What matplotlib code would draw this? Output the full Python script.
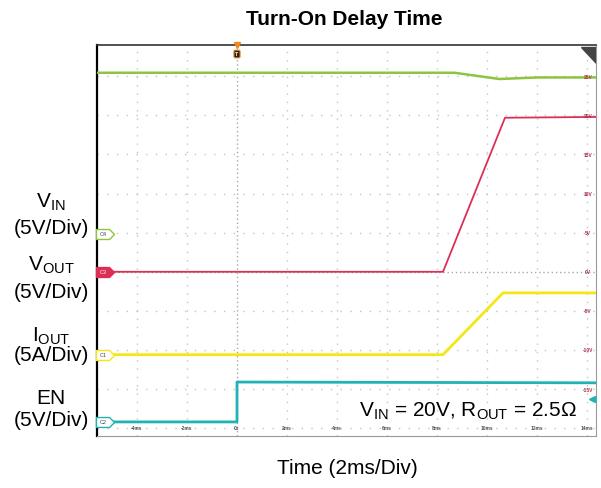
import matplotlib
matplotlib.use('Agg')
import matplotlib.pyplot as plt
from matplotlib.path import Path
from matplotlib.patches import Polygon

plt.rcParams['font.family'] = ['Liberation Sans', 'DejaVu Sans']
plt.rcParams['mathtext.fontset'] = 'custom'
plt.rcParams['mathtext.rm'] = 'Liberation Sans'
plt.rcParams['mathtext.it'] = 'Liberation Sans:italic'

# waveform data (time in ms, values in V / A)
t_vin = [-5.6, 8.7, 9.6, 10.5, 12.0, 14.4]
vin = [20.6, 20.6, 20.2, 19.8, 20.0, 20.0]
t_vout = [-5.6, 8.24, 10.72, 14.4]
vout = [0.0, 0.0, 19.7, 19.8]
t_iout = [-5.6, 8.24, 10.64, 14.4]
iout = [0.0, 0.0, 7.9, 7.9]
t_en = [-5.6, 0.0, 0.0, 14.4]
en = [0.0, 0.0, 5.1, 5.0]

# channel setup: offset in divisions, scale per division
ch_names = ['C4', 'C3', 'C1', 'C2']
ch_offsets = [0.97, 0.0, -2.12, -3.84]
ch_scale = [5, 5, 5, 5]
ch_colors = ['#8cc540', '#dc2f55', '#f5e616', '#1fb3b6']

time_ticks = [-4, -2, 0, 2, 4, 6, 8, 10, 12, 14]
time_labels = ['-4ms', '-2ms', '0s', '2ms', '4ms', '6ms', '8ms', '10ms', '12ms', '14ms']
div_ticks = [5, 4, 3, 2, 1, 0, -1, -2, -3, -4]
volt_labels = ['25V', '20V', '15V', '10V', '5V', '0V', '-5V', '-10V', '-15V', '']
en_trigger = 2.9

W, H = 601, 489
fig = plt.figure(figsize=(W / 100, H / 100), dpi=100)
ax = fig.add_axes([97 / W, (H - 437) / H, 499 / W, 391 / H])
ax.set_xlim(-5.6, 14.36)
ax.set_ylim(-4.2, 5.8)
ax.set_xticks([])
ax.set_yticks([])

# scope grid
for t in time_ticks:
    if t == 0:
        ax.axvline(t, color='#a8a8a8', lw=1, ls=(0, (1, 2)), zorder=1)
    else:
        ax.axvline(t, color='#c4c4c4', lw=1, ls=(0, (1, 5)), zorder=1)
for d in div_ticks:
    if d == 0:
        ax.axhline(d, color='#a8a8a8', lw=1, ls=(0, (1, 2)), zorder=1)
    else:
        ax.axhline(d, color='#c4c4c4', lw=1, ls=(0, (1, 6)), zorder=1)

# traces
series = [(t_vin, vin), (t_vout, vout), (t_iout, iout), (t_en, en)]
widths = [1.8, 1.3, 2.0, 2.0]
for (tt, vv), off, sc, c, lw in zip(series, ch_offsets, ch_scale, ch_colors, widths):
    ax.plot(tt, [v / sc + off for v in vv], color=c, lw=lw, zorder=3)

# small labels inside the screen
for t, lab in zip(time_ticks, time_labels):
    ax.text(t, 0.015, lab, transform=ax.get_xaxis_transform(), ha='center', va='bottom',
            fontsize=3.5, color='#555555', fontweight='bold')
for d, lab in zip(div_ticks, volt_labels):
    ax.text(0.984, d, lab, transform=ax.get_yaxis_transform(), ha='center', va='center',
            fontsize=3.5, color='#a8304c', fontweight='bold')

# channel tags on the left
tag = Path([(-1, -0.55), (0.45, -0.55), (1, 0), (0.45, 0.55), (-1, 0.55), (-1, -0.55)],
           [Path.MOVETO, Path.LINETO, Path.LINETO, Path.LINETO, Path.LINETO, Path.CLOSEPOLY])
ytr = ax.get_yaxis_transform()
for name, off, c in zip(ch_names, ch_offsets, ch_colors):
    face = c if name == 'C3' else 'white'
    tc = 'white' if name == 'C3' else '#444444'
    ax.plot([0.017], [off], marker=tag, markersize=13, markerfacecolor=face,
            markeredgecolor=c, markeredgewidth=1, transform=ytr, zorder=5, clip_on=False)
    ax.text(0.013, off, name, transform=ytr, ha='center', va='center', fontsize=4,
            color=tc, zorder=6)

# trigger level arrow (EN) and trigger position marker
ax.plot([0.992], [en_trigger / ch_scale[3] + ch_offsets[3]], marker='<', markersize=5,
        color=ch_colors[3], transform=ytr, clip_on=False, zorder=5)
xtr = ax.get_xaxis_transform()
ax.plot([0], [1.0], marker='v', markersize=5, color='#f08a1c', transform=xtr, clip_on=False, zorder=6)
ax.text(0, 0.977, 'T', transform=xtr, ha='center', va='center', fontsize=4, color='white',
        fontweight='bold', zorder=6,
        bbox=dict(boxstyle='round,pad=0.25', fc='#222222', ec='#f08a1c', lw=0.8))

# corner triangle
ax.add_patch(Polygon([(0.970, 0.995), (1.0, 0.995), (1.0, 0.955)], closed=True,
                     transform=ax.transAxes, color='#444444', zorder=6))

# frame
ax.spines['left'].set_color('black')
ax.spines['left'].set_linewidth(1.6)
ax.spines['top'].set_color('#333333')
ax.spines['top'].set_linewidth(1.2)
ax.spines['right'].set_color('#999999')
ax.spines['bottom'].set_color('#999999')

ax.text(0.962, 0.051, r'$\mathregular{V_{IN}}$ = 20V, $\mathregular{R_{OUT}}$ = 2.5$\Omega$',
        transform=ax.transAxes, ha='right', va='baseline', fontsize=15, color='black', zorder=7)

# outside labels
left_labels = [(r'$\mathregular{V_{IN}}$', 208), ('(5V/Div)', 234),
               (r'$\mathregular{V_{OUT}}$', 271), ('(5V/Div)', 298),
               (r'$\mathregular{I_{OUT}}$', 342), ('(5A/Div)', 361),
               ('EN', 404), ('(5V/Div)', 426)]
for lab, yb in left_labels:
    fig.text(51 / W, 1 - yb / H, lab, ha='center', va='baseline', fontsize=15)

fig.text(344 / W, 1 - 25 / H, 'Turn-On Delay Time', ha='center', va='baseline',
         fontsize=15, fontweight='bold')
fig.text(347 / W, 1 - 474 / H, 'Time (2ms/Div)', ha='center', va='baseline', fontsize=15)

fig.savefig('out.png', dpi=100)
